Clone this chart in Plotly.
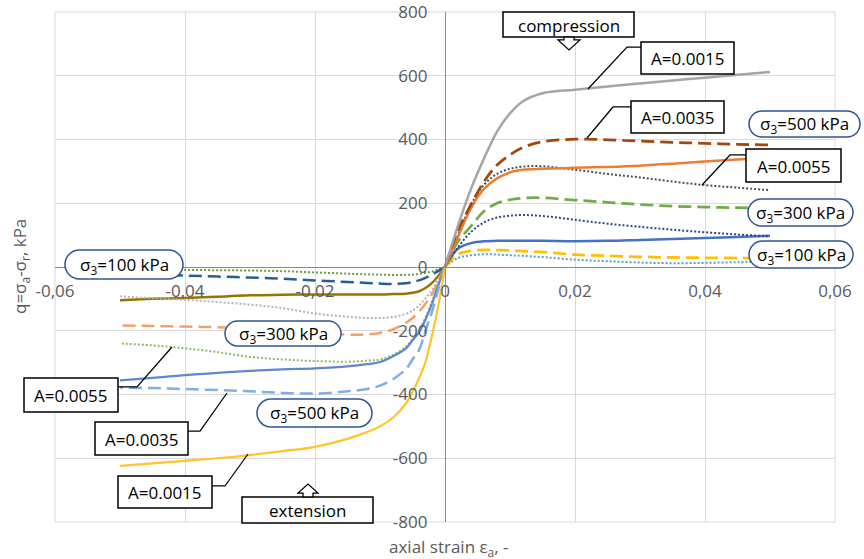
import plotly.graph_objects as go

# ---------------- data ----------------
eps_c = [0, 0.002, 0.004, 0.006, 0.008, 0.010, 0.012, 0.015, 0.020, 0.025, 0.030, 0.035, 0.040, 0.045, 0.050]
eps_e = [0, -0.001, -0.002, -0.003, -0.004, -0.005, -0.006, -0.008, -0.010, -0.012, -0.015,
         -0.020, -0.025, -0.030, -0.035, -0.040, -0.045, -0.050]

# compression
c500_A15 = [0, 130, 245, 340, 425, 482, 520, 545, 556, 566, 576, 585, 594, 603, 612]
c500_A35 = [0, 115, 196, 268, 320, 352, 375, 393, 401, 399, 395, 391, 388, 385, 383]
c500_A55 = [0, 100, 195, 258, 292, 308, 315, 316, 305, 292, 281, 268, 257, 249, 241]
c300_A15 = [0, 95, 185, 245, 278, 297, 305, 308, 311, 314, 318, 324, 331, 337, 343]
c300_A35 = [0, 80, 128, 175, 200, 211, 216, 217, 210, 203, 196, 191, 188, 186, 185]
c300_A55 = [0, 62, 110, 140, 155, 161, 163, 160, 148, 136, 126, 117, 109, 102, 96]
c100_A15 = [0, 58, 75, 81, 82, 82, 82, 82, 81, 82, 85, 88, 91, 94, 98]
c100_A35 = [0, 40, 51, 54, 53, 52, 50, 47, 39, 35, 32, 30, 29, 28, 28]
c100_A55 = [0, 28, 37, 40, 39, 37, 35, 31, 23, 18, 14, 12, 13, 15, 16]

# extension
e_yellow = [0, -118, -215, -298, -350, -392, -428, -473, -500, -518, -539, -564, -578, -590, -600, -608, -616, -624]
e_ltblue = [0, -68, -140, -200, -260, -290, -320, -352, -372, -383, -390, -397, -395, -390, -386, -383, -380, -378]
e_blue = [0, -55, -115, -165, -205, -230, -255, -280, -298, -305, -312, -318, -321, -326, -332, -339, -348, -356]
e_green = [0, -52, -108, -158, -198, -226, -250, -276, -290, -294, -297, -295, -290, -282, -267, -255, -246, -240]
e_orange = [0, -43, -85, -115, -140, -160, -175, -196, -207, -211, -212, -205, -198, -193, -189, -187, -185, -183]
e_gray = [0, -38, -72, -98, -121, -137, -147, -157, -160, -160, -156, -146, -129, -118, -110, -103, -98, -92]
e_dkyel = [0, -27, -50, -66, -76, -81, -84, -85, -86, -86, -86, -86, -87, -89, -93, -97, -100, -104]
e_dkblue = [0, -12, -24, -34, -42, -47, -51, -53, -52, -50, -47, -42, -37, -33, -30, -27, -24, -22]
e_olive = [0, -7, -14, -18, -22, -24, -25, -25, -24, -23, -21, -17, -13, -11, -10, -9, -8, -8]

x_ticks = [-0.06, -0.04, -0.02, 0, 0.02, 0.04, 0.06]
x_ticktext = ["-0,06", "-0,04", "-0,02", "0", "0,02", "0,04", "0,06"]
y_ticks = [-800, -600, -400, -200, 0, 200, 400, 600, 800]
y_ticktext = ["-800", "-600", "-400", "-200", "0", "200", "400", "600", "800"]

# ---------------- styles ----------------
SOLID, DASH, DOT = "solid", "13px,6px", "2px,2px"
series = [
    (eps_e, e_olive, "#6F9A3C", DOT, 2),
    (eps_e, e_dkblue, "#255E91", DASH, 2.5),
    (eps_e, e_dkyel, "#997300", SOLID, 2.5),
    (eps_e, e_gray, "#B4B4B4", DOT, 2),
    (eps_e, e_orange, "#F4A06A", DASH, 2.5),
    (eps_e, e_green, "#8DBB5E", DOT, 2),
    (eps_e, e_blue, "#5F86CF", SOLID, 2.25),
    (eps_e, e_ltblue, "#7DB0E0", DASH, 2.5),
    (eps_e, e_yellow, "#FFC527", SOLID, 2.25),
    (eps_c, c100_A55, "#5B9BD5", DOT, 2),
    (eps_c, c100_A35, "#FFC000", DASH, 2.75),
    (eps_c, c100_A15, "#4472C4", SOLID, 2.5),
    (eps_c, c300_A55, "#2F4680", DOT, 2),
    (eps_c, c300_A35, "#70AD47", DASH, 2.75),
    (eps_c, c500_A55, "#44505F", DOT, 2),
    (eps_c, c300_A15, "#ED7D31", SOLID, 2.5),
    (eps_c, c500_A35, "#9E480E", DASH, 2.75),
    (eps_c, c500_A15, "#A5A5A5", SOLID, 2.5),
]

fig = go.Figure()
for xs, ys, col, dash, w in series:
    fig.add_trace(go.Scatter(x=xs, y=ys, mode="lines", showlegend=False, hoverinfo="skip",
                             line=dict(color=col, dash=dash, width=w, shape="spline", smoothing=1.0)))

# ---------------- layout helpers (pixel -> paper) ----------------
W, H = 864, 559
L, R, T, B = 55, 29, 12, 37
PW, PH = W - L - R, H - T - B


def px(x):
    return (x - L) / PW


def py(y):
    return (T + PH - y) / PH


FONT = "Open Sans"
shapes, annots = [], []

# plot-area frame (edge gridlines)
shapes.append(dict(type="rect", xref="paper", yref="paper", x0=0, x1=1, y0=0, y1=1,
                   line=dict(color="#D9D9D9", width=1), layer="below"))


def poly_path(pts, close=True):
    s = "M " + " L ".join(f"{px(x):.5f},{py(y):.5f}" for x, y in pts)
    return s + (" Z" if close else "")


def rect_label(text, x0, y0, x1, y1, leader=None):
    shapes.append(dict(type="rect", xref="paper", yref="paper", x0=px(x0), x1=px(x1), y0=py(y1), y1=py(y0),
                       line=dict(color="black", width=1.5), fillcolor="white", layer="above"))
    annots.append(dict(text=text, xref="paper", yref="paper", x=px((x0 + x1) / 2), y=py((y0 + y1) / 2 + 0.5),
                       xanchor="center", yanchor="middle", showarrow=False,
                       font=dict(family=FONT, size=17, color="black")))
    if leader:
        shapes.append(dict(type="path", xref="paper", yref="paper", path=poly_path(leader, close=False),
                           line=dict(color="black", width=1.25), layer="above"))


def round_label(text, x0, y0, x1, y1):
    r = (y1 - y0) / 2
    k = 0.5523 * r
    p = [("M", [(x0 + r, y0)]), ("L", [(x1 - r, y0)]),
         ("C", [(x1 - r + k, y0), (x1, y0 + r - k), (x1, y0 + r)]),
         ("C", [(x1, y0 + r + k), (x1 - r + k, y1), (x1 - r, y1)]),
         ("L", [(x0 + r, y1)]),
         ("C", [(x0 + r - k, y1), (x0, y1 - r + k), (x0, y1 - r)]),
         ("C", [(x0, y0 + r - k), (x0 + r - k, y0), (x0 + r, y0)])]
    path = " ".join(c + " " + " ".join(f"{px(a):.5f},{py(b):.5f}" for a, b in pts) for c, pts in p) + " Z"
    shapes.append(dict(type="path", xref="paper", yref="paper", path=path,
                       line=dict(color="#2F5597", width=1.5), fillcolor="white", layer="above"))
    annots.append(dict(text=text, xref="paper", yref="paper", x=px((x0 + x1) / 2), y=py((y0 + y1) / 2 + 0.5),
                       xanchor="center", yanchor="middle", showarrow=False,
                       font=dict(family=FONT, size=17, color="black")))


def arrow(pts):
    shapes.append(dict(type="path", xref="paper", yref="paper", path=poly_path(pts),
                       line=dict(color="black", width=1.25), fillcolor="white", layer="above"))


# compression side
rect_label("compression", 503, 12, 634, 37)
arrow([(564, 37), (564, 40), (558, 40), (569, 50), (580, 40), (574, 40), (574, 37)])
rect_label("A=0.0015", 641, 42, 734, 74, [(641, 47), (627, 47), (588, 89)])
rect_label("A=0.0035", 631, 101, 724, 133, [(631, 107), (613, 107), (587, 138)])
rect_label("A=0.0055", 746, 149, 841, 182, [(746, 155), (730, 155), (702, 185)])
round_label("σ<sub>3</sub>=500 kPa", 749, 111, 860, 137)
round_label("σ<sub>3</sub>=300 kPa", 748, 199, 853, 226)
round_label("σ<sub>3</sub>=100 kPa", 749, 241, 853, 268)

# extension side
round_label("σ<sub>3</sub>=100 kPa", 65, 250, 183, 279)
round_label("σ<sub>3</sub>=300 kPa", 225, 321, 341, 346)
round_label("σ<sub>3</sub>=500 kPa", 257, 399, 372, 427)
rect_label("A=0.0055", 24, 378, 118, 412, [(118, 387), (137, 387), (172, 347)])
rect_label("A=0.0035", 95, 422, 188, 455, [(188, 431), (200, 431), (227, 393)])
rect_label("A=0.0015", 118, 476, 212, 508, [(212, 486), (225, 486), (248, 454)])
rect_label("extension", 242, 497, 373, 523)
arrow([(303, 497), (303, 493), (298, 493), (308, 484), (318, 493), (313, 493), (313, 497)])

# axis titles
annots.append(dict(text="q=σ<sub>a</sub>-σ<sub>r</sub>, kPa", xref="paper", yref="paper",
                   x=px(20), y=py(267), textangle=-90, showarrow=False, xanchor="center", yanchor="middle",
                   font=dict(family=FONT, size=17, color="#595959")))
annots.append(dict(text="axial strain ε<sub>a</sub>, -", xref="paper", yref="paper",
                   x=px(449), y=py(547), showarrow=False, xanchor="center", yanchor="middle",
                   font=dict(family=FONT, size=17, color="#595959")))

axis_common = dict(showgrid=True, gridcolor="#D9D9D9", gridwidth=1, zeroline=False, showline=True,
                   linecolor="#898989", linewidth=1.25, ticks="", anchor="free", position=0.5,
                   ticklabeloverflow="allow", automargin=False,
                   tickfont=dict(family=FONT, size=17, color="#595959"), fixedrange=True)

fig.update_layout(
    width=W, height=H, autosize=False,
    margin=dict(l=L, r=R, t=T, b=B, pad=0, autoexpand=False),
    paper_bgcolor="white", plot_bgcolor="white",
    showlegend=False,
    xaxis=dict(range=[-0.06, 0.06], tickmode="array", tickvals=x_ticks, ticktext=x_ticktext,
               ticklabelstandoff=8, **axis_common),
    yaxis=dict(range=[-800, 800], tickmode="array", tickvals=y_ticks, ticktext=y_ticktext,
               ticklabelstandoff=14, **axis_common),
    shapes=shapes, annotations=annots,
)

fig.write_html("out.html")
